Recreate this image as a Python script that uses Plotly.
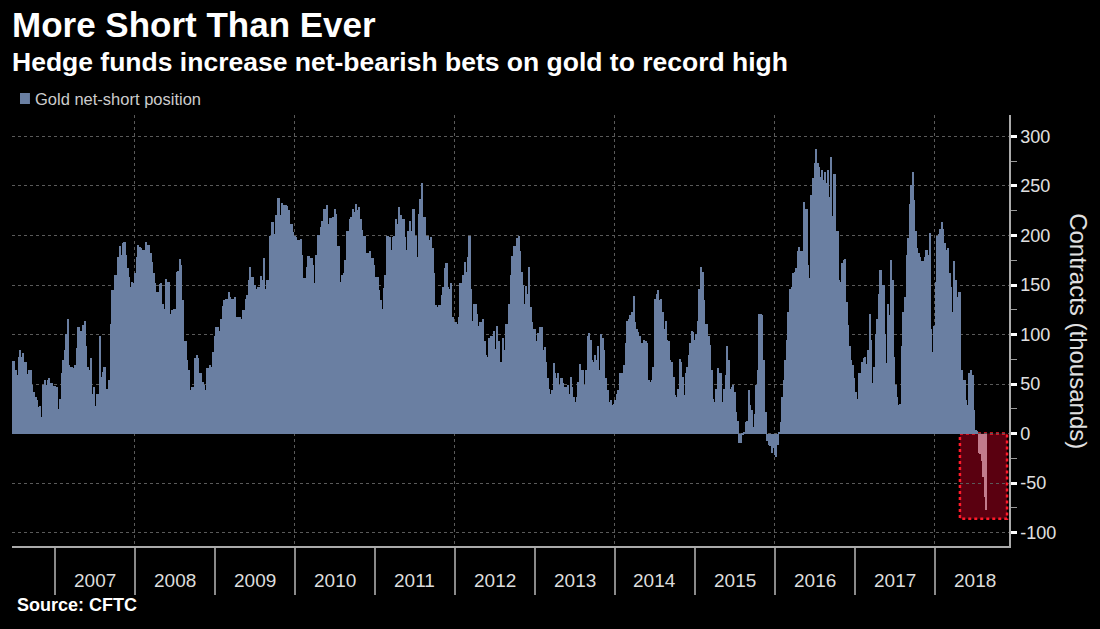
import pandas as pd
import plotly.graph_objects as go

# Weekly CFTC gold positions (thousands of contracts)
v2006 = [73, 73, 64, 59, 77, 84, 77, 81, 72, 72, 60, 64, 64, 49, 42, 37, 34, 27, 28, 17,
         49, 54, 49, 54, 56, 51, 51, 48]
v2007 = [48, 47, 25, 35, 61, 74, 84, 101, 116, 69, 67, 67, 66, 69, 86, 108, 104, 104, 110, 114,
         88, 67, 64, 76, 40, 47, 28, 40, 40, 99, 57, 62, 67, 45, 45, 54, 111, 145, 145, 160,
         160, 178, 189, 180, 192, 193, 180, 167, 158, 148, 153, 152]
v2008 = [162, 178, 190, 188, 187, 185, 185, 193, 190, 190, 182, 173, 162, 152, 143, 143, 151, 152, 131, 126,
         156, 153, 153, 121, 125, 126, 126, 163, 164, 176, 170, 135, 93, 93, 74, 64, 44, 47, 47, 76,
         79, 76, 61, 61, 52, 49, 44, 66, 66, 69, 67, 82, 98]
v2009 = [108, 108, 104, 116, 129, 135, 136, 136, 143, 138, 136, 136, 138, 118, 118, 118, 116, 125, 125, 136,
         140, 155, 168, 158, 158, 150, 146, 148, 148, 159, 155, 177, 146, 155, 155, 199, 214, 214, 202, 221,
         238, 238, 221, 233, 231, 231, 230, 226, 212, 212, 204, 200]
v2010 = [198, 195, 195, 196, 180, 157, 157, 168, 179, 177, 177, 170, 152, 180, 201, 201, 209, 215, 227, 227,
         231, 212, 218, 218, 219, 227, 222, 189, 189, 153, 160, 162, 175, 205, 205, 217, 219, 227, 224, 232,
         226, 229, 217, 206, 200, 200, 182, 182, 184, 177, 177, 170]
v2011 = [158, 158, 145, 135, 126, 147, 160, 200, 200, 198, 185, 198, 200, 217, 212, 229, 221, 217, 217, 198,
         185, 205, 215, 205, 227, 227, 200, 178, 222, 237, 253, 219, 219, 200, 200, 195, 198, 187, 162, 130,
         128, 130, 130, 140, 148, 167, 172, 148, 146, 152, 118, 113]
v2012 = [113, 111, 118, 152, 152, 160, 173, 163, 178, 199, 146, 114, 131, 131, 121, 109, 113, 113, 116, 93,
         79, 77, 96, 99, 99, 104, 85, 109, 93, 72, 72, 96, 84, 111, 111, 131, 160, 179, 189, 189,
         197, 199, 184, 163, 150, 131, 149, 141, 168, 128, 113, 106]
v2013 = [106, 93, 102, 108, 108, 84, 87, 72, 56, 45, 40, 44, 71, 61, 56, 61, 49, 56, 51, 47,
         47, 49, 40, 57, 47, 37, 32, 37, 52, 70, 64, 64, 49, 64, 98, 102, 94, 74, 72, 79,
         74, 88, 64, 101, 96, 84, 56, 44, 32, 34, 29, 30, 34]
v2014 = [40, 44, 61, 61, 61, 69, 91, 114, 116, 120, 123, 139, 113, 106, 103, 99, 91, 91, 94, 93,
         91, 54, 52, 54, 67, 136, 141, 145, 135, 136, 123, 106, 114, 94, 93, 74, 72, 57, 39, 37,
         45, 75, 72, 57, 39, 61, 67, 79, 91, 104, 103, 94]
v2015 = [101, 114, 146, 168, 163, 135, 111, 111, 99, 89, 64, 35, 32, 45, 66, 61, 61, 32, 45, 59,
         88, 74, 45, 47, 49, 42, 22, 13, -10, -10, -1, 2, 12, 13, 44, 29, 24, 7, 20, 49,
         64, 121, 121, 120, 74, 22, -8, -12, -13, -20, -15, -22]
v2016 = [-24, -12, 1, 12, 37, 54, 74, 94, 123, 146, 148, 162, 163, 167, 184, 188, 184, 184, 234, 227,
         227, 170, 157, 241, 258, 273, 287, 273, 269, 259, 266, 256, 264, 253, 266, 239, 279, 220, 262, 205,
         205, 155, 153, 172, 175, 176, 133, 110, 88, 74, 69, 56]
v2017 = [42, 35, 61, 61, 72, 76, 77, 70, 84, 121, 94, 51, 67, 101, 116, 141, 165, 150, 150, 101,
         71, 131, 120, 175, 155, 77, 49, 37, 29, 30, 88, 123, 138, 180, 197, 232, 251, 264, 236, 205,
         187, 182, 178, 174, 174, 178, 185, 180, 203, 106, 82, 109]
v2018 = [153, 199, 202, 207, 214, 207, 192, 185, 187, 162, 148, 123, 174, 155, 138, 143, 143, 64, 54, 54,
         34, 29, 61, 64, 59, 24, 4, 3, -20, -21, -28, -44, -64, -77]

year_labels = [str(y) for y in range(2007, 2019)]

values = v2006 + v2007 + v2008 + v2009 + v2010 + v2011 + v2012 + v2013 + v2014 + v2015 + v2016 + v2017 + v2018
dates = pd.date_range("2006-06-23 12:00", periods=len(values), freq="7D")

BLUE = "#6a7fa2"
PINK = "#c27b8c"
colors = [PINK if (d.year == 2018 and v < 0) else BLUE for d, v in zip(dates, values)]

fig = go.Figure()
fig.add_trace(go.Bar(
    x=dates, y=values, width=7.2 * 86400000,
    marker=dict(color=colors, line=dict(width=0)),
    name="Gold net-short position", showlegend=False,
))

# highlight box around the 2018 net-short record
fig.add_shape(type="rect", xref="x", yref="y",
              x0="2018-04-25", x1="2018-11-26", y0=0, y1=-86,
              fillcolor="#5a0010", line=dict(color="#ff1a2a", width=2.5, dash="dot"),
              layer="below")

even_years = [f"{y}-01-01" for y in range(2008, 2019, 2)]
odd_years = [f"{y}-01-01" for y in range(2007, 2018, 2)]

FONT = "Liberation Sans, Arial, sans-serif"

fig.update_layout(
    width=1100, height=629,
    margin=dict(l=12, r=91, t=115, b=83),
    paper_bgcolor="black", plot_bgcolor="black",
    bargap=0, showlegend=False,
    font=dict(family=FONT, color="#dddddd"),
    xaxis=dict(
        type="date", range=["2006-06-20", "2018-12-05"],
        showline=True, linecolor="#aaaaaa", linewidth=1.5,
        tickmode="array", tickvals=even_years, ticks="outside", ticklen=47,
        tickcolor="#8a8a8a", tickwidth=1.5, showticklabels=False,
        showgrid=True, gridcolor="#5a5a5a", griddash="dot", gridwidth=1,
        minor=dict(tickmode="array", tickvals=odd_years, ticks="outside", ticklen=47,
                   tickcolor="#8a8a8a", tickwidth=1.5, showgrid=False),
        zeroline=False,
    ),
    yaxis=dict(
        side="right", range=[-113.6, 321.7],
        showline=True, linecolor="#aaaaaa", linewidth=1.5,
        tickmode="array", tickvals=[-100, -50, 0, 50, 100, 150, 200, 250, 300],
        ticktext=["-100", "-50", "0", "50", "100", "150", "200", "250", "300"],
        ticks="outside", ticklen=6, tickwidth=3, tickcolor="#ffffff",
        tickfont=dict(size=18, color="#e0e0e0", family=FONT),
        minor=dict(dtick=25, ticks="outside", ticklen=6, tickwidth=1, tickcolor="#999999", showgrid=False),
        showgrid=True, gridcolor="#5a5a5a", griddash="dot", gridwidth=1,
        zeroline=False,
    ),
)

ann = []
ann.append(dict(text="<b>More Short Than Ever</b>", xref="paper", yref="paper", x=-0.002, y=1.211,
                xanchor="left", yanchor="middle", showarrow=False,
                font=dict(size=35, color="white", family=FONT)))
ann.append(dict(text="<b>Hedge funds increase net-bearish bets on gold to record high</b>", xref="paper",
                yref="paper", x=-0.002, y=1.123, xanchor="left", yanchor="middle", showarrow=False,
                font=dict(size=26.5, color="white", family=FONT)))
ann.append(dict(text="Gold net-short position", xref="paper", yref="paper", x=0.021, y=1.0371,
                xanchor="left", yanchor="middle", showarrow=False,
                font=dict(size=16.5, color="#cccccc", family=FONT)))
ann.append(dict(text="<b>Source: CFTC</b>", xref="paper", yref="paper", x=0.003, y=-0.137,
                xanchor="left", yanchor="middle", showarrow=False,
                font=dict(size=18, color="white", family=FONT)))
ann.append(dict(text="Contracts (thousands)", xref="paper", yref="paper", x=1.069, y=0.499,
                xanchor="center", yanchor="middle", textangle=90, showarrow=False,
                font=dict(size=24, color="#e0e0e0", family=FONT)))
for lab in year_labels:
    ann.append(dict(text=lab, xref="x", yref="paper", x=f"{lab}-07-02", y=-0.079,
                    xanchor="center", yanchor="middle", showarrow=False,
                    font=dict(size=19, color="#dddddd", family=FONT)))
fig.update_layout(annotations=ann)

fig.add_shape(type="rect", xref="paper", yref="paper", x0=0.008, x1=0.018, y0=1.0255, y1=1.0511,
              fillcolor=BLUE, line=dict(width=0))

fig.write_html("out.html", config={"displayModeBar": False},
               post_script="document.body.style.margin='0px';document.body.style.padding='0px';"
                           "document.body.style.background='black';")
